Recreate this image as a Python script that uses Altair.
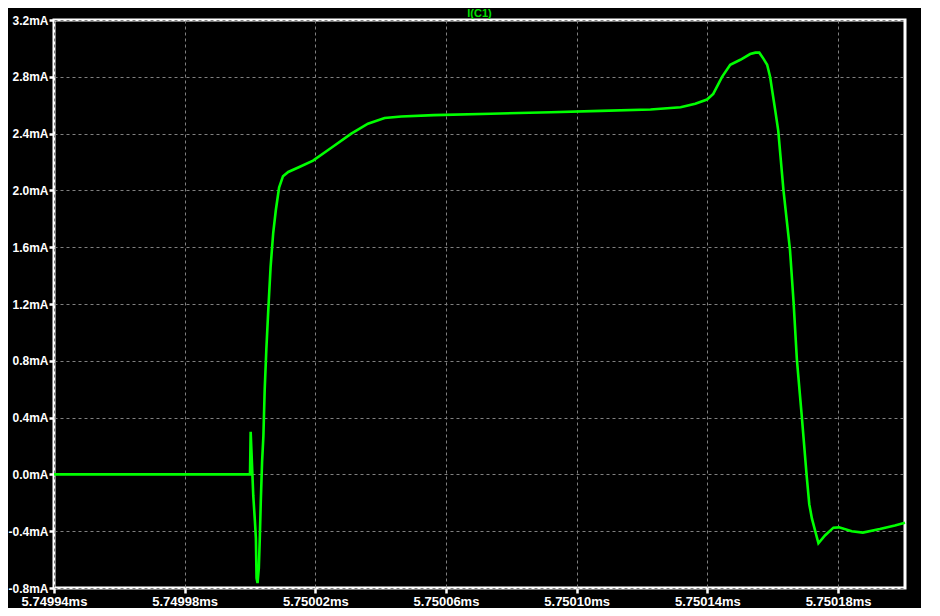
import altair as alt
import pandas as pd

# time in ms, current in mA
time_ms = [
    5.7499400, 5.7500000, 5.7500002, 5.7500010, 5.7500015, 5.7500018, 5.7500020,
    5.7500023, 5.7500027, 5.7500030, 5.7500033, 5.7500037, 5.7500041, 5.7500045,
    5.7500050, 5.7500056, 5.7500063, 5.7500071, 5.7500079, 5.7500089, 5.7500101,
    5.7500117, 5.7500151, 5.7500193, 5.7500249, 5.7500310, 5.7500361, 5.7500412,
    5.7500463, 5.7500563, 5.7500737, 5.7500921, 5.7501073, 5.7501226, 5.7501318,
    5.7501363, 5.7501399, 5.7501418, 5.7501445, 5.7501470, 5.7501501, 5.7501531,
    5.7501547, 5.7501559, 5.7501571, 5.7501583, 5.7501592, 5.7501608, 5.7501617,
    5.7501633, 5.7501653, 5.7501664, 5.7501674, 5.7501689, 5.7501704, 5.7501712,
    5.7501720, 5.7501740, 5.7501760, 5.7501786, 5.7501803, 5.7501842, 5.7501876,
    5.7501928, 5.7501974, 5.7502005,
]
current_ma = [
    0.0, 0.0, 0.30, -0.15, -0.33, -0.45, -0.73,
    -0.765, -0.66, -0.45, -0.19, 0.09, 0.27, 0.60,
    0.88, 1.16, 1.46, 1.70, 1.86, 2.02, 2.10,
    2.13, 2.165, 2.21, 2.30, 2.40, 2.47, 2.51,
    2.52, 2.53, 2.54, 2.55, 2.56, 2.57, 2.585,
    2.61, 2.64, 2.68, 2.80, 2.885, 2.92, 2.96,
    2.97, 2.97, 2.93, 2.885, 2.80, 2.56, 2.42,
    2.00, 1.58, 1.21, 0.81, 0.41, -0.01, -0.21,
    -0.31, -0.485, -0.43, -0.375, -0.373, -0.40, -0.41,
    -0.385, -0.36, -0.34,
]

x_ticks = [5.74994, 5.74998, 5.75002, 5.75006, 5.75010, 5.75014, 5.75018]
y_ticks = [-0.8, -0.4, 0.0, 0.4, 0.8, 1.2, 1.6, 2.0, 2.4, 2.8, 3.2]
x_domain = [5.74994, 5.7502005]
y_domain = [-0.8, 3.2]
trace_name = "I(C1)"

df = pd.DataFrame({"t": time_ms, "i": current_ma})

chart = (
    alt.Chart(df)
    .mark_line(color="#00ff00", strokeWidth=2.6, interpolate="linear")
    .encode(
        x=alt.X(
            "t:Q",
            scale=alt.Scale(domain=x_domain, nice=False, zero=False),
            axis=alt.Axis(
                values=x_ticks,
                labelExpr="format(datum.value, '.5f') + 'ms'",
                title=None,
            ),
        ),
        y=alt.Y(
            "i:Q",
            scale=alt.Scale(domain=y_domain, nice=False, zero=False),
            axis=alt.Axis(
                values=y_ticks,
                labelExpr="(datum.value < -0.001 ? '-' : '') + format(abs(datum.value), '.1f') + 'mA'",
                title=None,
            ),
        ),
    )
    .properties(
        width=851,
        height=568,
        autosize=alt.AutoSizeParams(type="none"),
        padding={"left": 46, "top": 12, "right": 16, "bottom": 20},
        background="black",
        title=alt.TitleParams(
            trace_name,
            color="#00e000",
            fontSize=11,
            font="Liberation Sans",
            fontWeight="bold",
            anchor="middle",
            offset=-5,
        ),
    )
    .configure_view(stroke="white", strokeWidth=3)
    .configure_axis(
        domain=False,
        grid=True,
        gridColor="#808080",
        gridDash=[3, 3],
        gridWidth=1,
        ticks=True,
        tickColor="white",
        tickSize=5,
        tickWidth=2.5,
        labelColor="white",
        labelFont="Liberation Sans",
        labelFontWeight="bold",
    )
    .configure_axisX(labelFontSize=13, labelPadding=2, labelFlush=False)
    .configure_axisY(labelFontSize=12, labelPadding=1, labelFlush=False)
)

chart.save("out.html", embed_options={"renderer": "svg", "actions": False})
